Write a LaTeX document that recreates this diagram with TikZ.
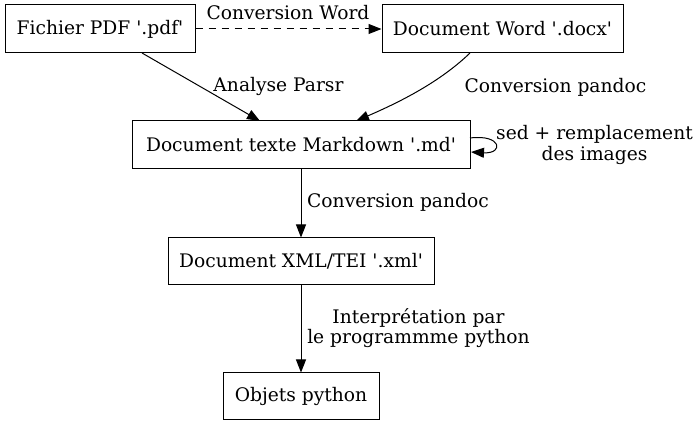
\documentclass[tikz,border=0pt]{standalone}
\usepackage{fontspec}
\setmainfont{DejaVu Serif}
\usetikzlibrary{arrows.meta}
\newcommand{\sq}{\textquotesingle}
\tikzset{
  box/.style={draw, line width=1pt, inner sep=0pt, minimum height=48pt, font=\fontsize{18.67}{20.5}\selectfont},
  lbl/.style={inner sep=0pt, align=center, font=\fontsize{18.67}{20.5}\selectfont},
  edge/.style={line width=1pt, -{Triangle[length=13pt,width=10pt]}},
}
\begin{document}
\begin{tikzpicture}[x=1pt,y=-1pt]
\useasboundingbox (0,0) rectangle (699,427);
\node[box, minimum width=190pt] (pdf) at (100,29) {Fichier PDF \sq.pdf\sq};
\node[box, minimum width=241pt] (docx) at (502.5,29) {Document Word \sq.docx\sq};
\node[box, minimum width=338pt] (md) at (301,145) {Document texte Markdown \sq.md\sq};
\node[box, minimum width=266pt, minimum height=47pt] (xml) at (301,261.5) {Document XML/TEI \sq.xml\sq};
\node[box, minimum width=156pt, minimum height=47pt] (py) at (301,396.5) {Objets python};

\coordinate (pdfb) at (142,53);
\coordinate (docxb) at (470,53);
\coordinate (mdt1) at (260,121);
\coordinate (mdt2) at (356,121);
\coordinate (mdr1) at (470,138);
\coordinate (mdr2) at (471,152);

\draw[edge, dash pattern=on 7pt off 6pt] (pdf.east) -- (docx.west);
\draw[edge] (pdfb) -- (mdt1);
\draw[edge] (docxb) .. controls (440,82) and (400,102) .. (mdt2);
\draw[edge] (mdr1) .. controls (502,134) and (504,154) .. (mdr2);
\draw[edge] (md.south) -- (xml.north);
\draw[edge] (xml.south) -- (py.north);

\node[lbl] (l1) at (288,13) {Conversion Word};
\node[lbl] (l2) at (278.5,86) {Analyse Parsr};
\node[lbl] (l3) at (555.5,87) {Conversion pandoc};
\node[lbl] (l4) at (594.5,145) {sed + remplacement\\des images};
\node[lbl] (l5) at (398,202) {Conversion pandoc};
\node[lbl] (l6) at (418.5,328) {Interprétation par\\le programmme python};
\end{tikzpicture}
\end{document}
